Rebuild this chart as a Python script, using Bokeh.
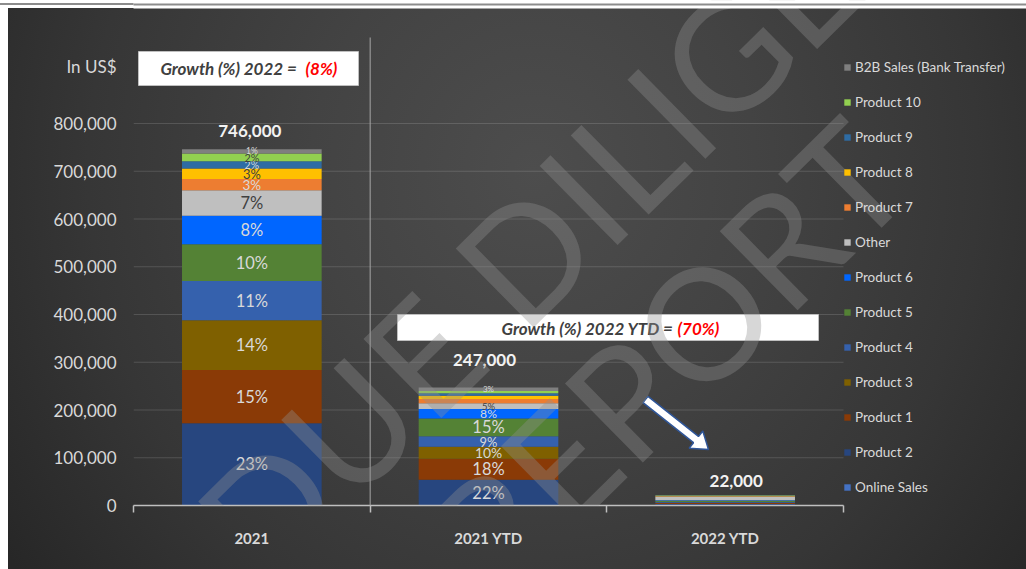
import math
from bokeh.plotting import figure
from bokeh.models import (ColumnDataSource, Range1d, FixedTicker, NumeralTickFormatter,
                          Legend, LegendItem, Label, Arrow)
from bokeh.core.properties import value
from bokeh.embed import file_html
from bokeh.resources import INLINE

# ------------------------------------------------------------------ data
periods = ["2021", "2021 YTD", "2022 YTD"]
series_names = ["Online Sales", "Product 2", "Product 1", "Product 3", "Product 4",
                "Product 5", "Product 6", "Other", "Product 7", "Product 8",
                "Product 9", "Product 10", "B2B Sales (Bank Transfer)"]

online_sales = [0, 0, 1000]
product_2 = [172000, 54000, 2000]
product_1 = [112000, 44000, 2000]
product_3 = [104000, 25000, 1000]
product_4 = [82000, 22000, 1500]
product_5 = [77000, 37000, 2500]
product_6 = [60000, 20000, 1000]
other = [53000, 12000, 8000]
product_7 = [24000, 9000, 500]
product_8 = [22000, 7000, 500]
product_9 = [15000, 5000, 500]
product_10 = [16000, 5000, 1000]
b2b_sales = [9000, 7000, 500]

series_values = [online_sales, product_2, product_1, product_3, product_4, product_5,
                 product_6, other, product_7, product_8, product_9, product_10, b2b_sales]

# which segments carry a percentage label in each bar
labelled = {
    "2021": ["Product 2", "Product 1", "Product 3", "Product 4", "Product 5", "Product 6",
             "Other", "Product 7", "Product 8", "Product 9", "Product 10",
             "B2B Sales (Bank Transfer)"],
    "2021 YTD": ["Product 2", "Product 1", "Product 3", "Product 4", "Product 5",
                 "Product 6", "Other", "B2B Sales (Bank Transfer)"],
    "2022 YTD": [],
}

growth_2022 = "(8%)"
growth_2022_ytd = "(70%)"
y_ticks = [0, 100000, 200000, 300000, 400000, 500000, 600000, 700000, 800000]
unit_label = "In US$"
unit_label_level = 920000
watermark_lines = ["A DUE DILIGENCE", "REPORT"]

# ------------------------------------------------------------------ style
FONT = "Lato"
colors = ["#4472c4", "#27467f", "#8a3a06", "#7f6000", "#3561ad", "#548235", "#0066ff",
          "#bfbfbf", "#ed7d31", "#ffc000", "#2e6ca4", "#92d050", "#7f7f7f"]
dark_label_series = {"Other", "Product 8", "Product 10"}
LIGHT_TXT = "#d9d9d9"
total_x_offsets = [-2, -4, 11]
total_y_offsets = [-12, -22, -8]

W, H = 1026, 569
FRAME_L = 133          # px of the frame's left edge
FRAME_B = 505          # px of the value 0 / frame bottom
PX_PER_CAT = 710 / 3
PX_PER_VAL = 382 / 800000
x_end = (W - FRAME_L) / PX_PER_CAT
y_end = FRAME_B / PX_PER_VAL


def X(px):
    return (px - FRAME_L) / PX_PER_CAT


def Y(py):
    return (FRAME_B - py) / PX_PER_VAL


p = figure(width=W, height=H, x_range=Range1d(0, x_end), y_range=Range1d(0, y_end),
           output_backend="svg", toolbar_location=None,
           min_border_left=FRAME_L, min_border_right=0, min_border_top=0,
           min_border_bottom=H - FRAME_B)
p.background_fill_alpha = 0
p.border_fill_alpha = 0
p.outline_line_color = None
p.styles = {
    "background": (
        "linear-gradient(to bottom, #ffffff 0px, #ffffff 3px, #8c8c8c 3px, #8c8c8c 5px, "
        "#ffffff 5px, #ffffff 8px, transparent 8px),"
        "linear-gradient(to right, #ffffff 0px, #ffffff 8px, transparent 8px),"
        "radial-gradient(ellipse 62% 120% at 52% 30%, #4d4d4d 0%, #434343 35%, "
        "#363636 70%, #272727 100%)"
    )
}
p.grid.visible = False

# y axis (the unit caption sits at the top of the tick column)
p.yaxis.ticker = FixedTicker(ticks=y_ticks + [unit_label_level])
p.yaxis.formatter = NumeralTickFormatter(format="0,0")
p.yaxis.major_label_overrides = {unit_label_level: unit_label}
p.yaxis.axis_line_color = None
p.yaxis.major_tick_line_color = None
p.yaxis.minor_tick_line_color = None
p.yaxis.major_tick_out = 0
p.yaxis.major_tick_in = 0
p.yaxis.major_label_standoff = 17
p.yaxis.major_label_text_font = FONT
p.yaxis.major_label_text_font_size = "17px"
p.yaxis.major_label_text_color = LIGHT_TXT

# x axis (category labels at centres, tick marks at boundaries)
centres = [i + 0.5 for i in range(len(periods))]
p.xaxis.ticker = FixedTicker(ticks=centres, minor_ticks=list(range(len(periods) + 1)))
p.xaxis.major_label_overrides = {c: name for c, name in zip(centres, periods)}
p.xaxis.bounds = (0, len(periods))
p.xaxis.axis_line_color = "#bfbfbf"
p.xaxis.axis_line_width = 1.5
p.xaxis.major_tick_line_color = None
p.xaxis.major_tick_out = 0
p.xaxis.major_tick_in = 0
p.xaxis.minor_tick_line_color = "#bfbfbf"
p.xaxis.minor_tick_line_width = 1.5
p.xaxis.minor_tick_out = 7
p.xaxis.minor_tick_in = 0
p.xaxis.major_label_standoff = 16
p.xaxis.major_label_text_font = FONT
p.xaxis.major_label_text_font_style = "bold"
p.xaxis.major_label_text_font_size = "15px"
p.xaxis.major_label_text_color = LIGHT_TXT

# gridlines limited to the category span
gl = y_ticks[1:]
p.segment(x0=[0] * len(gl), x1=[len(periods)] * len(gl), y0=gl, y1=gl,
          line_color="white", line_alpha=0.14, line_width=1.2)

# stacked bars
keys = [f"s{i}" for i in range(len(series_names))]
data = {"x": centres}
for k, vals in zip(keys, series_values):
    data[k] = vals
src = ColumnDataSource(data)
renderers = p.vbar_stack(keys, x="x", width=0.59, source=src,
                         fill_color=colors, line_color=None)

# percentage labels
lx, ly, lt, lc, ls = [], [], [], [], []
totals = []
for i, period in enumerate(periods):
    total = sum(vals[i] for vals in series_values)
    totals.append(total)
    bottom = 0
    for name, vals in zip(series_names, series_values):
        v = vals[i]
        if v > 0 and name in labelled[period]:
            h = v * PX_PER_VAL
            size = min(16.5, max(8, 0.7 * h + 5.5))
            lx.append(centres[i])
            ly.append(bottom + v / 2)
            lt.append(f"{round(v / total * 100)}%")
            lc.append("#404040" if name in dark_label_series else LIGHT_TXT)
            ls.append(f"{size:.1f}px")
        bottom += v
p.text(x=lx, y=ly, text=lt, text_color=lc, text_font_size=ls,
       text_align="center", text_baseline="middle", text_font=value(FONT))

# totals above bars
tsrc = ColumnDataSource(dict(x=centres, y=totals, t=[f"{t:,}" for t in totals],
                             xo=total_x_offsets, yo=total_y_offsets))
p.text(x="x", y="y", text="t", x_offset="xo", y_offset="yo", source=tsrc,
       text_color="#f2f2f2", text_font_size="17px", text_font_style="bold",
       text_align="center", text_baseline="bottom", text_font=value(FONT))

# growth boxes
p.quad(left=[X(138), X(397)], right=[X(358), X(818)], top=[Y(51), Y(314)],
       bottom=[Y(85), Y(340)], fill_color="white", line_color="#bfbfbf", line_width=1)
p.text(x=[X(300), X(673)], y=[Y(68), Y(328)],
       text=["Growth (%) 2022  =", "Growth (%) 2022 YTD ="], text_color="#404040",
       text_font_size="17px", text_font_style="bold italic", text_align="right",
       text_baseline="middle", text_font=value(FONT))
p.text(x=[X(305), X(677)], y=[Y(68), Y(328)], text=[growth_2022, growth_2022_ytd],
       text_color="#ff0000", text_font_size="17px", text_font_style="bold italic",
       text_align="left", text_baseline="middle", text_font=value(FONT))

# block arrow (white with navy outline)
sx, sy, ex, ey = 645, 399, 708, 449
L = math.hypot(ex - sx, ey - sy)
dx, dy = (ex - sx) / L, (ey - sy) / L
nx, ny = -dy, dx
neck = (ex - dx * 16, ey - dy * 16)
pts = [(sx + nx * 4, sy + ny * 4), (neck[0] + nx * 4, neck[1] + ny * 4),
       (neck[0] + nx * 11, neck[1] + ny * 11), (ex, ey),
       (neck[0] - nx * 11, neck[1] - ny * 11), (neck[0] - nx * 4, neck[1] - ny * 4),
       (sx - nx * 4, sy - ny * 4)]
p.patch(x=[X(a) for a, b in pts], y=[Y(b) for a, b in pts], fill_color="white",
        line_color="#2f5597", line_width=1.5)

# vertical separator line
p.add_layout(Arrow(end=None, x_start=1, y_start=Y(37), x_end=1, y_end=Y(548),
                   line_color="#a6a6a6", line_width=1))

# watermark (grey, semi-transparent, drawn over the chart)
ang = math.radians(44.5)
for (px0, py0), txt in zip([(124, 645), (457, 560)], watermark_lines):
    p.add_layout(Label(x=X(px0), y=Y(py0), text=txt, angle=ang, text_font=FONT,
                       text_font_size="155px", text_color="#919191", text_alpha=0.36,
                       text_baseline="alphabetic"))

# legend (reverse stacking order)
items = [LegendItem(label=n, renderers=[r]) for n, r in zip(series_names, renderers)][::-1]
legend = Legend(items=items, location=(710, 10), orientation="vertical",
                glyph_width=8, glyph_height=8, label_standoff=4, label_height=16,
                spacing=19, padding=0, margin=0, border_line_color=None,
                background_fill_alpha=0, label_text_font=FONT,
                label_text_font_size="13.5px", label_text_color=LIGHT_TXT)
p.add_layout(legend)

# top page strip drawn over everything inside the frame
p.quad(left=[0], right=[x_end], top=[y_end], bottom=[Y(8)], fill_color="white",
       line_color=None, level="overlay")
p.segment(x0=[0], x1=[x_end], y0=[Y(4)], y1=[Y(4)], line_color="#8c8c8c",
          line_width=2, level="overlay")

open("out.html", "w").write(file_html(p, INLINE))
